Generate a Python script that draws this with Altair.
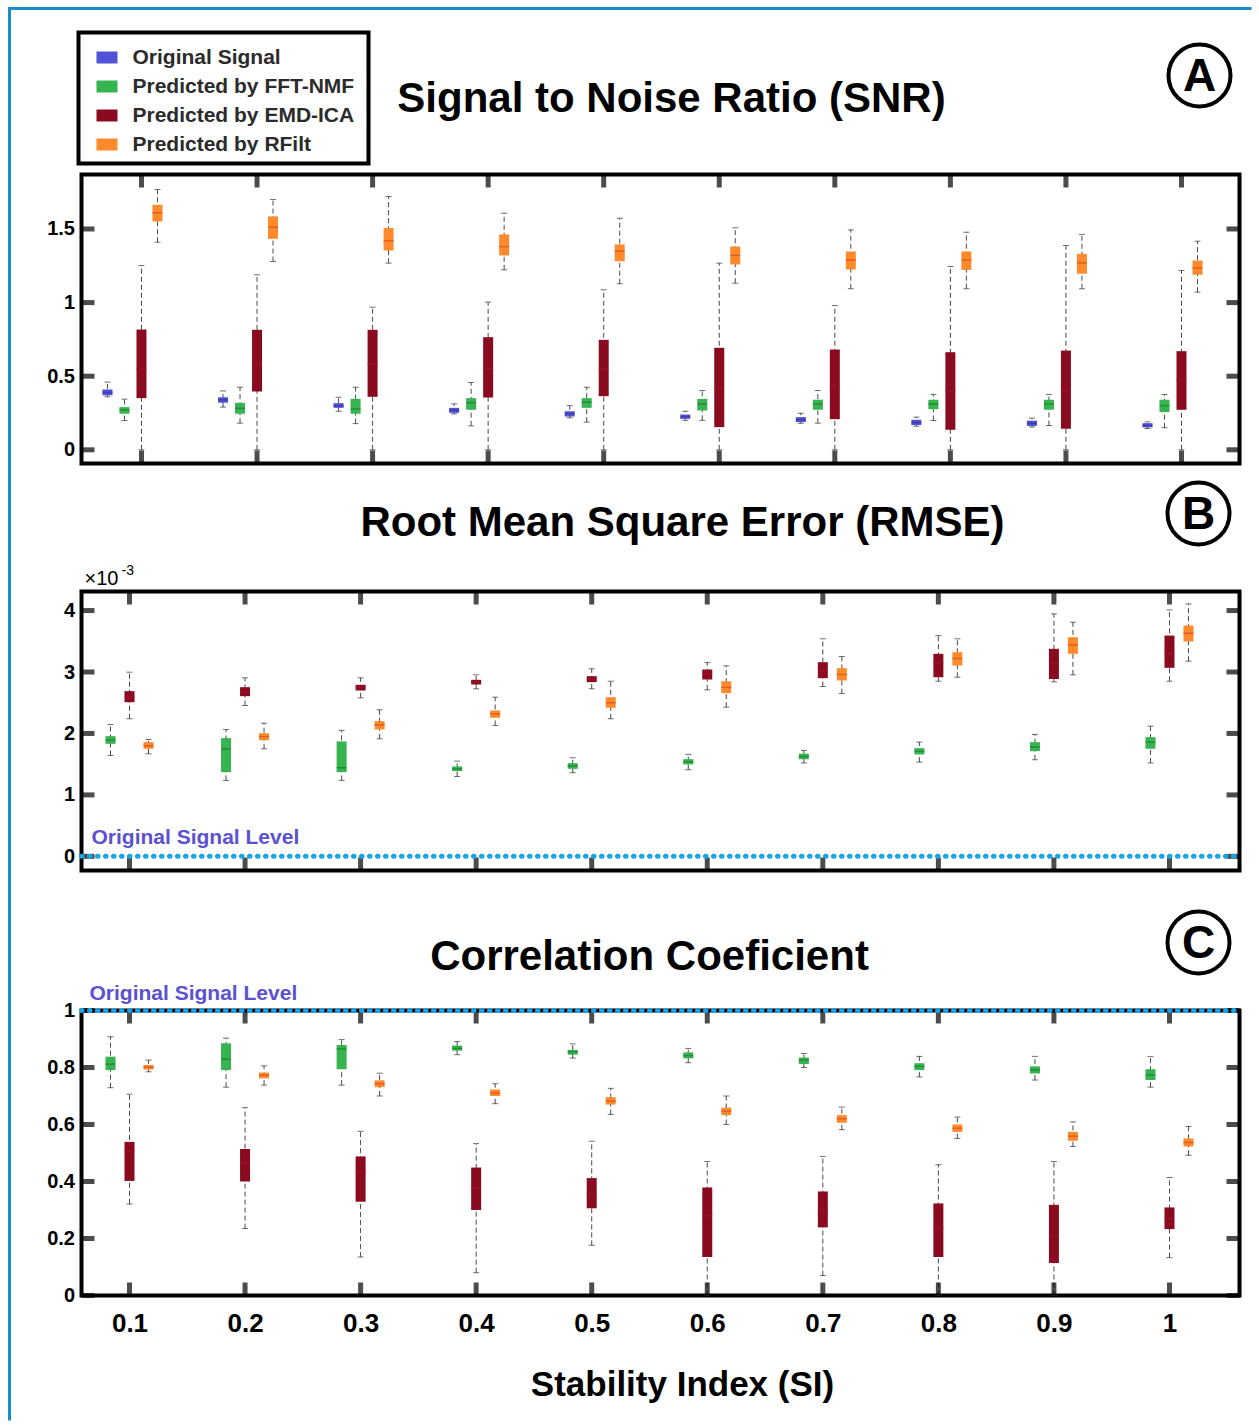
import altair as alt
import pandas as pd

FONT = "Liberation Sans"

SI = [0.1, 0.2, 0.3, 0.4, 0.5, 0.6, 0.7, 0.8, 0.9, 1.0]
METHODS = ["Original Signal", "Predicted by FFT-NMF", "Predicted by EMD-ICA", "Predicted by RFilt"]
TITLES = ["Signal to Noise Ratio (SNR)", "Root Mean Square Error (RMSE)", "Correlation Coeficient"]
LETTERS = ["A", "B", "C"]
X_TITLE = "Stability Index (SI)"
LEVEL_LABEL = "Original Signal Level"

# each row: [lower whisker, Q1, median, Q3, upper whisker], one row per SI value
snr_original = [
    [0.36, 0.37, 0.39, 0.41, 0.46], [0.29, 0.32, 0.34, 0.357, 0.40],
    [0.262, 0.285, 0.30, 0.317, 0.357], [0.244, 0.251, 0.27, 0.285, 0.312],
    [0.217, 0.226, 0.245, 0.262, 0.30], [0.20, 0.21, 0.225, 0.24, 0.262],
    [0.18, 0.188, 0.205, 0.222, 0.248], [0.16, 0.168, 0.185, 0.204, 0.222],
    [0.155, 0.162, 0.18, 0.198, 0.215], [0.145, 0.152, 0.165, 0.181, 0.19],
]
snr_fftnmf = [
    [0.199, 0.245, 0.27, 0.29, 0.344], [0.181, 0.245, 0.282, 0.319, 0.425],
    [0.178, 0.245, 0.278, 0.346, 0.425], [0.163, 0.272, 0.32, 0.351, 0.457],
    [0.188, 0.285, 0.323, 0.351, 0.425], [0.20, 0.267, 0.31, 0.346, 0.403],
    [0.181, 0.272, 0.31, 0.34, 0.403], [0.199, 0.276, 0.31, 0.34, 0.376],
    [0.165, 0.272, 0.31, 0.34, 0.376], [0.15, 0.256, 0.30, 0.34, 0.376],
]
snr_emdica = [
    [0.0, 0.351, 0.55, 0.817, 1.252], [0.0, 0.396, 0.58, 0.815, 1.189],
    [0.0, 0.36, 0.58, 0.815, 0.969], [0.0, 0.355, 0.55, 0.765, 1.003],
    [0.0, 0.364, 0.55, 0.747, 1.087], [0.0, 0.154, 0.42, 0.693, 1.268],
    [0.0, 0.208, 0.44, 0.681, 0.98], [0.0, 0.136, 0.40, 0.663, 1.245],
    [0.0, 0.143, 0.40, 0.674, 1.388], [0.0, 0.272, 0.47, 0.67, 1.218],
]
snr_rfilt = [
    [1.41, 1.551, 1.61, 1.664, 1.768], [1.279, 1.433, 1.512, 1.585, 1.70],
    [1.268, 1.354, 1.42, 1.506, 1.721], [1.223, 1.32, 1.38, 1.463, 1.607],
    [1.128, 1.281, 1.35, 1.395, 1.573], [1.132, 1.259, 1.32, 1.381, 1.508],
    [1.094, 1.225, 1.29, 1.347, 1.494], [1.094, 1.222, 1.29, 1.347, 1.478],
    [1.094, 1.196, 1.27, 1.331, 1.463], [1.071, 1.189, 1.235, 1.286, 1.417],
]

# RMSE values in units of 1e-3
rmse_fftnmf = [
    [1.642, 1.832, 1.89, 1.956, 2.146], [1.236, 1.371, 1.75, 1.924, 2.065],
    [1.236, 1.371, 1.442, 1.87, 2.05], [1.30, 1.388, 1.425, 1.463, 1.55],
    [1.361, 1.425, 1.47, 1.517, 1.605], [1.41, 1.496, 1.54, 1.582, 1.659],
    [1.52, 1.58, 1.625, 1.67, 1.724], [1.534, 1.659, 1.71, 1.761, 1.859],
    [1.572, 1.713, 1.78, 1.859, 1.984], [1.52, 1.751, 1.86, 1.94, 2.119],
]
rmse_emdica = [
    [2.239, 2.509, 2.6, 2.688, 2.997], [2.455, 2.607, 2.67, 2.753, 2.905],
    [2.58, 2.699, 2.75, 2.792, 2.905], [2.726, 2.797, 2.835, 2.873, 2.954],
    [2.726, 2.835, 2.886, 2.932, 3.052], [2.71, 2.878, 2.97, 3.041, 3.154],
    [2.764, 2.9, 3.02, 3.16, 3.54], [2.85, 2.915, 3.14, 3.296, 3.593],
    [2.84, 2.886, 3.14, 3.377, 3.946], [2.85, 3.068, 3.3, 3.593, 4.01],
]
rmse_rfilt = [
    [1.669, 1.751, 1.8, 1.859, 1.902], [1.751, 1.89, 1.95, 2.005, 2.168],
    [1.913, 2.065, 2.14, 2.2, 2.385], [2.13, 2.255, 2.32, 2.374, 2.59],
    [2.239, 2.418, 2.5, 2.59, 2.85], [2.428, 2.656, 2.75, 2.85, 3.1],
    [2.651, 2.862, 2.96, 3.062, 3.252], [2.915, 3.106, 3.22, 3.322, 3.54],
    [2.954, 3.296, 3.44, 3.566, 3.81], [3.176, 3.496, 3.63, 3.756, 4.108],
]
rmse_original_level = [0.0]

cc_fftnmf = [
    [0.729, 0.791, 0.812, 0.838, 0.908], [0.731, 0.791, 0.829, 0.885, 0.903],
    [0.738, 0.794, 0.865, 0.879, 0.898], [0.845, 0.859, 0.867, 0.877, 0.891],
    [0.833, 0.845, 0.855, 0.862, 0.883], [0.817, 0.832, 0.842, 0.853, 0.867],
    [0.80, 0.812, 0.826, 0.835, 0.849], [0.767, 0.791, 0.804, 0.815, 0.839],
    [0.756, 0.779, 0.792, 0.804, 0.839], [0.731, 0.756, 0.774, 0.794, 0.838],
]
cc_emdica = [
    [0.321, 0.402, 0.506, 0.539, 0.706], [0.235, 0.40, 0.465, 0.514, 0.659],
    [0.135, 0.329, 0.435, 0.488, 0.576], [0.08, 0.30, 0.376, 0.449, 0.533],
    [0.176, 0.306, 0.36, 0.412, 0.541], [0.0, 0.135, 0.28, 0.379, 0.47],
    [0.07, 0.239, 0.30, 0.365, 0.488], [0.0, 0.135, 0.235, 0.323, 0.459],
    [0.0, 0.114, 0.21, 0.318, 0.47], [0.133, 0.233, 0.27, 0.309, 0.414],
]
cc_rfilt = [
    [0.785, 0.793, 0.801, 0.809, 0.826], [0.738, 0.762, 0.773, 0.782, 0.806],
    [0.70, 0.731, 0.743, 0.755, 0.78], [0.673, 0.70, 0.71, 0.723, 0.743],
    [0.635, 0.67, 0.682, 0.696, 0.727], [0.60, 0.633, 0.647, 0.659, 0.70],
    [0.582, 0.606, 0.62, 0.633, 0.661], [0.551, 0.574, 0.587, 0.60, 0.626],
    [0.523, 0.543, 0.559, 0.574, 0.609], [0.492, 0.523, 0.537, 0.551, 0.593],
]
cc_original_level = [1.0]

SNR_TICKS = [0, 0.5, 1, 1.5]
RMSE_TICKS = [0, 1, 2, 3, 4]
CC_TICKS = [0, 0.2, 0.4, 0.6, 0.8, 1]

# ---------------- style ----------------
COLORS = {
    METHODS[0]: "#5153d6",
    METHODS[1]: "#35b44f",
    METHODS[2]: "#8a0b1f",
    METHODS[3]: "#ff8a2c",
}
MEDIAN_COLORS = {
    METHODS[0]: "#3a2f9a",
    METHODS[1]: "#1f7a32",
    METHODS[2]: "#a3122f",
    METHODS[3]: "#d9481a",
}
W = 1158
STAT = ["low", "q1", "med", "q3", "high"]
ONE = pd.DataFrame({"a": [0]})


def to_df(table):
    return pd.DataFrame([dict(si=s, **dict(zip(STAT, r))) for s, r in zip(SI, table)])


def text_layer(s, x, y, size, color="black", align="center", baseline="middle", weight="bold"):
    return alt.Chart(pd.DataFrame({"t": [s]})).mark_text(
        fontSize=size, fontWeight=weight, color=color, align=align, baseline=baseline, font=FONT
    ).encode(x=alt.value(x), y=alt.value(y), text="t:N")


def circled(letter, x, y):
    ring = alt.Chart(ONE).mark_point(
        shape="circle", size=62 * 62, filled=False, color="black", strokeWidth=4, opacity=1
    ).encode(x=alt.value(x), y=alt.value(y))
    return [ring, text_layer(letter, x, y + 1, 46)]


def box_layers(df, method, off, X, Ymk):
    base = alt.Chart(df)
    whisk = base.mark_rule(color="#4a4a4a", strokeWidth=1, strokeDash=[5, 3], xOffset=off).encode(
        x=X, y=Ymk("low"), y2="high")
    caps = [
        base.mark_tick(orient="horizontal", size=6, thickness=1, color="#333333", xOffset=off).encode(
            x=X, y=Ymk(f))
        for f in ("low", "high")
    ]
    box = base.mark_rule(color=COLORS[method], strokeWidth=10, xOffset=off).encode(
        x=X, y=Ymk("q1"), y2="q3")
    med = base.mark_tick(orient="horizontal", size=10, thickness=1.5, color=MEDIAN_COLORS[method],
                         xOffset=off).encode(x=X, y=Ymk("med"))
    return [whisk] + caps + [box, med]


def frame_ticks(X, Ymk, yvals, H):
    xt = alt.Chart(pd.DataFrame({"si": SI}))
    yt = alt.Chart(pd.DataFrame({"v": yvals}))
    k = dict(color="black", thickness=5, size=13)
    return [
        xt.mark_tick(orient="vertical", yOffset=6.5, **k).encode(x=X, y=alt.value(0)),
        xt.mark_tick(orient="vertical", yOffset=-6.5, **k).encode(x=X, y=alt.value(H)),
        yt.mark_tick(orient="horizontal", xOffset=6.5, **k).encode(y=Ymk("v"), x=alt.value(0)),
        yt.mark_tick(orient="horizontal", xOffset=-6.5, **k).encode(y=Ymk("v"), x=alt.value(W)),
    ]


def level_layers(level, Ymk, label_x, label_dy):
    d = pd.DataFrame({"v": level, "t": [LEVEL_LABEL]})
    line = alt.Chart(d).mark_rule(color="#19a3e6", strokeWidth=5, strokeDash=[0.5, 7.5],
                                  strokeCap="round").encode(y=Ymk("v"), x=alt.value(0), x2=alt.value(W))
    lab = alt.Chart(d).mark_text(fontSize=21, fontWeight="bold", color="#5a52d0", align="left",
                                 baseline="middle", dy=label_dy, font=FONT).encode(
        y=Ymk("v"), x=alt.value(label_x), text="t:N")
    return [line, lab]


def panel(tables, offsets, xdom, ydom, yvals, H, xaxis, extra_fn):
    X = alt.X("si:Q", scale=alt.Scale(domain=xdom, nice=False, zero=False), axis=xaxis)
    yaxis = alt.Axis(values=yvals, format="~g", ticks=False, domain=False, grid=False,
                     labelFontSize=20, labelFontWeight="bold", labelColor="black",
                     labelPadding=7, labelFont=FONT, title=None)

    def Ymk(f):
        return alt.Y(f"{f}:Q", scale=alt.Scale(domain=ydom, nice=False, zero=False), axis=yaxis)

    layers = []
    for m, t in tables.items():
        layers += box_layers(to_df(t), m, offsets[m], X, Ymk)
    layers += frame_ticks(X, Ymk, yvals, H)
    layers += extra_fn(Ymk)
    return alt.layer(*layers).properties(width=W, height=H)


def spacer(h):
    return alt.Chart(ONE).mark_point(opacity=0).encode(x=alt.value(0), y=alt.value(0)).properties(
        width=W, height=h, view=alt.ViewBackground(stroke="transparent", strokeWidth=0))


# ---------------- panel A ----------------
def extra_a(Ymk):
    out = []
    # outer light-blue border (top and left)
    out.append(alt.Chart(ONE).mark_rule(color="#1b8ccb", strokeWidth=3).encode(
        x=alt.value(-72), y=alt.value(-166), y2=alt.value(1246)))
    out.append(alt.Chart(ONE).mark_rule(color="#1b8ccb", strokeWidth=3).encode(
        x=alt.value(-73.5), x2=alt.value(1170), y=alt.value(-166)))
    # legend box
    out.append(alt.Chart(ONE).mark_rect(fill="white", stroke="black", strokeWidth=4).encode(
        x=alt.value(-3), x2=alt.value(287), y=alt.value(-142), y2=alt.value(-11)))
    for i, m in enumerate(METHODS):
        yc = -117 + 29 * i
        out.append(alt.Chart(ONE).mark_rect(color=COLORS[m]).encode(
            x=alt.value(15), x2=alt.value(36), y=alt.value(yc - 6), y2=alt.value(yc + 6)))
        out.append(text_layer(m, 51, yc, 21, color="#2b2b2b", align="left"))
    out.append(text_layer(TITLES[0], 590, -76, 42))
    out += circled(LETTERS[0], 1118, -99)
    return out


chart_a = panel(
    {METHODS[0]: snr_original, METHODS[1]: snr_fftnmf, METHODS[2]: snr_emdica, METHODS[3]: snr_rfilt},
    {METHODS[0]: -34, METHODS[1]: -17, METHODS[2]: 0, METHODS[3]: 16},
    [0.0481, 1.0502], [-0.093, 1.87], SNR_TICKS, 289, None, extra_a)


# ---------------- panel B ----------------
def extra_b(Ymk):
    out = []
    out.append(text_layer(TITLES[1], 601, -69, 42))
    out += circled(LETTERS[1], 1117, -78)
    out.append(text_layer("\u00d710", 3, -7, 20, align="left", baseline="alphabetic", weight="normal"))
    out.append(text_layer("-3", 40, -17, 14, align="left", baseline="alphabetic", weight="normal"))
    out += level_layers(rmse_original_level, Ymk, 10, -18)
    return out


chart_b = panel(
    {METHODS[1]: rmse_fftnmf, METHODS[2]: rmse_emdica, METHODS[3]: rmse_rfilt},
    {METHODS[1]: -19, METHODS[2]: 0, METHODS[3]: 19},
    [0.05846, 1.0606], [-0.23, 4.31], RMSE_TICKS, 279, None, extra_b)


# ---------------- panel C ----------------
def extra_c(Ymk):
    out = []
    out.append(text_layer(TITLES[2], 568, -54, 42))
    out += circled(LETTERS[2], 1117, -68)
    out += level_layers(cc_original_level, Ymk, 8, -17)
    out.append(text_layer(X_TITLE, 601, 374, 35))
    return out


x_axis_c = alt.Axis(values=SI, format="~g", ticks=False, domain=False, grid=False,
                    labelFontSize=26, labelFontWeight="bold", labelColor="black", labelFont=FONT,
                    labelPadding=15, title=None)

chart_c = panel(
    {METHODS[1]: cc_fftnmf, METHODS[2]: cc_emdica, METHODS[3]: cc_rfilt},
    {METHODS[1]: -19, METHODS[2]: 0, METHODS[3]: 19},
    [0.05846, 1.0606], [0, 1], CC_TICKS, 285, x_axis_c, extra_c)

chart = alt.vconcat(
    chart_a, spacer(128), chart_b, spacer(140), chart_c, spacing=0, bounds="flush"
).properties(
    padding={"left": 4.5, "top": 4.5, "right": 0, "bottom": 0}
).configure(
    font=FONT, background="white"
).configure_view(
    stroke="black", strokeWidth=4
)

chart.save("out.html", embed_options={"renderer": "svg", "actions": False})
